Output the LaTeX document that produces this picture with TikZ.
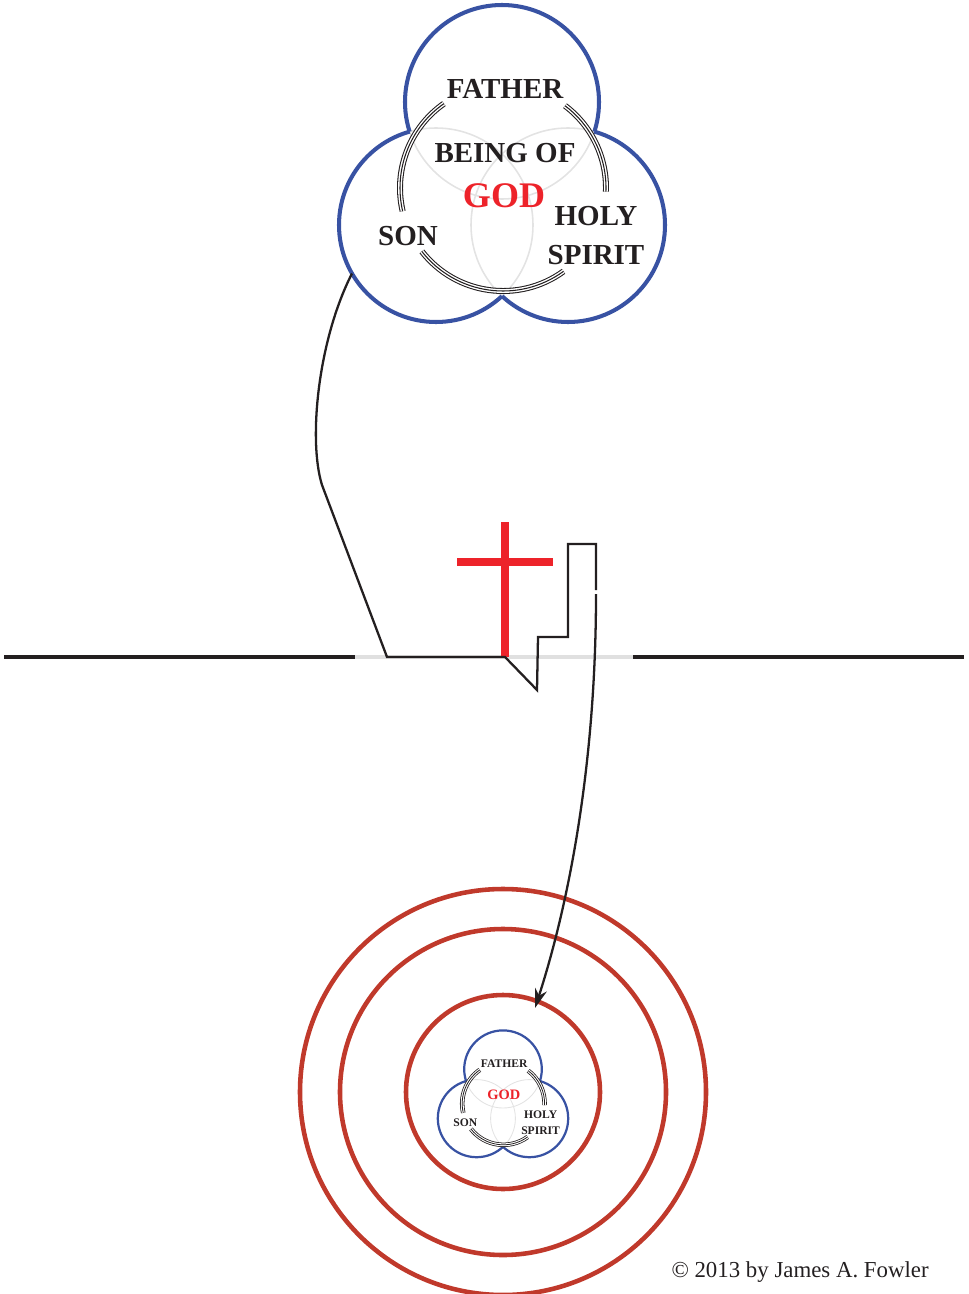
\documentclass[tikz,border=0pt]{standalone}
\usepackage{fontspec}
\setmainfont{Liberation Serif}
\usetikzlibrary{arrows.meta}

\definecolor{trinityblue}{RGB}{56,82,163}
\definecolor{crossred}{RGB}{237,35,42}
\definecolor{ringred}{RGB}{192,57,43}
\definecolor{inkblack}{RGB}{35,31,32}

\tikzset{
  label text/.style={font=\fontsize{16.5}{22.2}\selectfont\bfseries, text=inkblack, inner sep=0pt, align=center},
  god text/.style={font=\fontsize{20.5}{24}\selectfont\bfseries, text=crossred, inner sep=0pt},
  ring/.style={draw=ringred, line width=2.6pt},
  path line/.style={draw=inkblack, line width=1.3pt},
}

% #1 line factor, #2 upper middle text, #3 height of GOD, #4 arc factor
\newcommand{\trinity}[4]{%
  \coordinate (father) at (0,82);
  \coordinate (son) at (-66,-41);
  \coordinate (spirit) at (66,-41);
  \coordinate (core) at (1,-4);
  % inner grey circles
  \foreach \c in {father,son,spirit}
    \draw[gray!22, line width=#1*0.9pt] (\c) circle (97);
  % blue outline
  \foreach \a/\b/\c in {father/son/spirit, son/spirit/father, spirit/father/son} {
    \begin{scope}[even odd rule]
      \clip (-260,-260) rectangle (260,260) (\b) circle (97);
      \clip (-260,-260) rectangle (260,260) (\c) circle (97);
      \draw[trinityblue, line width=#1*2.3pt] (\a) circle (97);
    \end{scope}
  }
  % triple arcs
  \foreach \s/\e in {125/193, 218/306, -2/53} {
    \draw[inkblack, line width=#4*3.4pt] ([shift={(\s:103)}]core) arc (\s:\e:103);
    \draw[white, line width=#4*2.2pt] ([shift={(\s:103)}]core) arc (\s:\e:103);
    \draw[inkblack, line width=#4*0.6pt] ([shift={(\s:103)}]core) arc (\s:\e:103);
  }
  % labels
  \node[label text] (fathertext) at (3,95) {FATHER};
  \node[label text] (being) at (3,31) {#2};
  \node[god text] (god) at (2,#3) {GOD};
  \node[label text] (sontext) at (-94,-52) {SON};
  \node[label text] (spirittext) at (94,-51.5) {HOLY\\SPIRIT};
}

\begin{document}
\begin{tikzpicture}[x=0.02cm, y=0.02cm, >=Stealth]
  \useasboundingbox (0,0) rectangle (969,-1294);

  % Big trinity
  \begin{scope}[shift={(502,-184)}, name prefix=big-]
    \trinity{1}{BEING OF}{-12}{1}
  \end{scope}

  % Rings
  \foreach \r in {97,163,203}
    \draw[ring] (503,-1092) circle (\r);

  % Small trinity
  \begin{scope}[shift={(503,-1102)}, scale=0.4, transform shape, name prefix=small-]
    \trinity{0.55}{}{17}{0.75}
  \end{scope}

  % Ground line
  \draw[inkblack, line width=2.3pt] (4,-657) -- (355,-657);
  \draw[black!12, line width=2.3pt] (355,-657) -- (633,-657);
  \draw[inkblack, line width=2.3pt] (633,-657) -- (964,-657);

  % Cross
  \draw[crossred, line width=4.4pt] (505,-522) -- (505,-657);
  \draw[crossred, line width=4pt] (457,-562) -- (553,-562);

  % Path points
  \coordinate (rim) at ([shift={(210:97)}]big-son);
  \coordinate (bend) at (322,-485);
  \coordinate (base) at (387,-657);
  \coordinate (crossfoot) at (505,-657);
  \coordinate (dip) at (537,-690);
  \coordinate (step) at (538,-637);
  \coordinate (ledge) at (568,-637);
  \coordinate (post) at (568,-544);
  \coordinate (lintel) at (596,-544);
  \coordinate (hook) at (596,-590);
  \coordinate (dive) at (596,-594);
  \coordinate (tip) at (535,-1008);

  % Edges
  \draw[path line] (rim) .. controls (318,-340) and (308,-440) .. (bend)
    -- (base) -- (crossfoot) -- (dip) -- (step) -- (ledge) -- (post) -- (lintel) -- (hook);
  \draw[path line, -{Stealth[length=11pt, width=7pt]}] (dive) .. controls (596,-760) and (570,-900) .. (tip);

  % Credit
  \node[anchor=base east, font=\fontsize{13}{15}\selectfont, text=inkblack, inner sep=0pt] (credit) at (929,-1277) {© 2013 by James A. Fowler};
\end{tikzpicture}
\end{document}
